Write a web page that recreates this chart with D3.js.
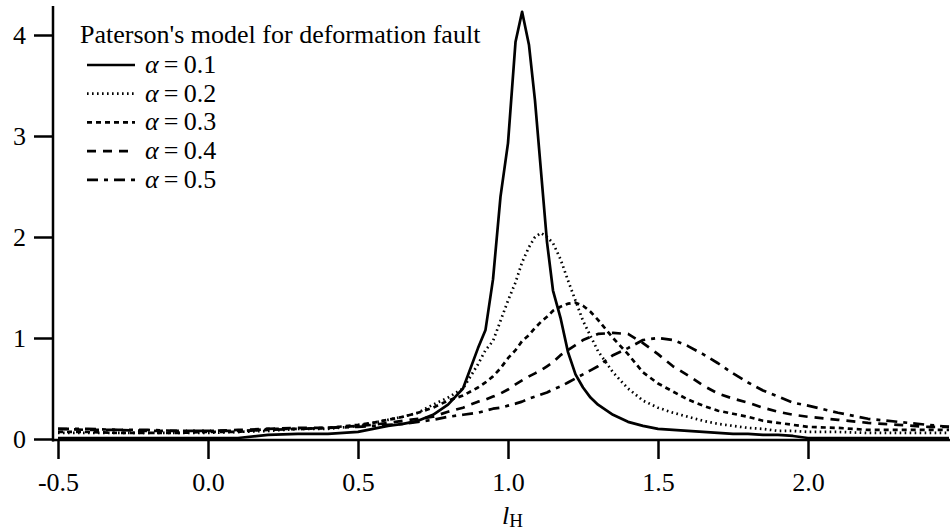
<!DOCTYPE html>
<html>
<head>
<meta charset="utf-8">
<script src="https://cdn.jsdelivr.net/npm/d3@7"></script>
<style>
  html, body { margin: 0; padding: 0; background: #fff; }
  svg { display: block; font-family: "Liberation Serif", "Times New Roman", serif; }
</style>
</head>
<body>
<svg id="chart" width="950" height="532"></svg>
<script>
// ---- data ----
const xValues = [-0.5,-0.4,-0.3,-0.2,-0.1,0.0,0.1,0.2,0.3,0.4,0.5,
  0.55,0.6,0.65,0.7,0.75,0.8,0.85,0.9,
  0.925,0.95,0.975,1.0,1.025,1.047,1.07,1.09,1.11,1.13,1.15,1.175,1.2,1.225,1.25,1.275,1.3,
  1.35,1.4,1.45,1.5,1.55,1.6,1.65,1.7,1.75,1.8,1.85,1.9,1.95,2.0,
  2.1,2.2,2.3,2.4,2.47];

const alpha01 = [0.01,0.01,0.01,0.01,0.01,0.01,0.01,0.04,0.05,0.05,0.07,
  0.10,0.13,0.15,0.18,0.24,0.34,0.50,0.90,
  1.08,1.58,2.40,2.93,3.93,4.23,3.90,3.35,2.65,1.95,1.47,1.20,0.86,0.64,0.51,0.41,0.34,
  0.24,0.17,0.13,0.10,0.09,0.08,0.07,0.06,0.05,0.05,0.04,0.04,0.03,0.01,
  0.01,0.01,0.01,0.01,0.01];

const alpha02 = [0.06,0.06,0.06,0.06,0.06,0.06,0.07,0.08,0.10,0.10,0.13,
  0.16,0.19,0.22,0.26,0.34,0.41,0.50,0.74,
  0.88,0.97,1.17,1.37,1.55,1.75,1.90,2.00,2.04,2.00,1.94,1.78,1.57,1.37,1.17,1.02,0.87,
  0.66,0.50,0.38,0.31,0.26,0.22,0.18,0.15,0.13,0.11,0.10,0.08,0.08,0.07,
  0.07,0.06,0.06,0.06,0.06];

const alpha03 = [0.07,0.07,0.06,0.06,0.06,0.07,0.07,0.10,0.10,0.11,0.14,
  0.16,0.19,0.22,0.26,0.31,0.38,0.43,0.51,
  0.56,0.62,0.70,0.80,0.88,0.97,1.03,1.10,1.16,1.21,1.27,1.31,1.34,1.35,1.32,1.26,1.18,
  1.00,0.84,0.66,0.55,0.47,0.39,0.33,0.28,0.25,0.22,0.18,0.16,0.14,0.12,
  0.11,0.09,0.09,0.09,0.09];

const alpha04 = [0.10,0.09,0.09,0.08,0.08,0.08,0.09,0.10,0.11,0.11,0.13,
  0.14,0.16,0.18,0.20,0.22,0.27,0.31,0.37,
  0.39,0.42,0.45,0.49,0.54,0.58,0.62,0.65,0.68,0.72,0.76,0.83,0.88,0.93,0.98,1.01,1.04,
  1.05,1.04,0.95,0.84,0.72,0.63,0.53,0.45,0.40,0.36,0.31,0.27,0.24,0.22,
  0.19,0.16,0.14,0.12,0.12];

const alpha05 = [0.10,0.10,0.09,0.09,0.08,0.08,0.08,0.09,0.10,0.11,0.12,
  0.13,0.14,0.15,0.17,0.19,0.22,0.24,0.26,
  0.28,0.30,0.31,0.33,0.35,0.37,0.40,0.42,0.44,0.46,0.49,0.52,0.56,0.60,0.64,0.68,0.72,
  0.83,0.90,0.98,1.00,0.98,0.92,0.84,0.75,0.65,0.56,0.48,0.42,0.36,0.33,
  0.26,0.20,0.17,0.14,0.12];

const seriesLabels = ["0.1","0.2","0.3","0.4","0.5"];
const seriesValues = [alpha01, alpha02, alpha03, alpha04, alpha05];
const xTicks = [-0.5, 0.0, 0.5, 1.0, 1.5, 2.0];
const yTicks = [0, 1, 2, 3, 4];
const legendTitle = "Paterson's model for deformation fault";

// ---- styles ----
const dashes = [null, "1.6,3.4", "5,4", "9,7", "11,6,4,6"];
const FS = 26;

const svg = d3.select("#chart");
const x = d3.scaleLinear().domain([-0.5, 2.0]).range([58, 808]);
const y = d3.scaleLinear().domain([0, 4]).range([439, 35]);

// axes
const yAxisX = 53, xAxisY = 440;
svg.append("line").attr("x1", yAxisX).attr("x2", yAxisX).attr("y1", 6).attr("y2", xAxisY + 1.5)
  .attr("stroke", "#000").attr("stroke-width", 2.5);
svg.append("line").attr("x1", yAxisX - 1).attr("x2", 950).attr("y1", xAxisY).attr("y2", xAxisY)
  .attr("stroke", "#000").attr("stroke-width", 2.5);

const yAxis = d3.axisLeft(y).tickValues(yTicks).tickSize(19).tickPadding(8).tickFormat(d3.format("d"));
const gy = svg.append("g").attr("transform", `translate(${yAxisX},0)`).call(yAxis);
gy.select(".domain").remove();
gy.selectAll(".tick line").attr("stroke-width", 2.5);
gy.selectAll(".tick text").attr("font-size", FS).attr("font-family", "Liberation Serif").attr("fill", "#000");

const fmtX = d => d3.format(".1f")(d).replace("\u2212", "-");
const xAxis = d3.axisBottom(x).tickValues(xTicks).tickSize(19).tickPadding(14).tickFormat(fmtX);
const gx = svg.append("g").attr("transform", `translate(0,${xAxisY})`).call(xAxis);
gx.select(".domain").remove();
gx.selectAll(".tick line").attr("stroke-width", 2.5);
gx.selectAll(".tick text").attr("font-size", FS).attr("font-family", "Liberation Serif").attr("fill", "#000");

// x label
const xl = svg.append("text").attr("x", x(1.0) - 6).attr("y", 524).attr("font-size", FS).attr("fill", "#000");
xl.append("tspan").attr("font-style", "italic").text("l");
xl.append("tspan").attr("font-size", 19).attr("dy", 3).text("H");

// lines
const line = d3.line().x((d, i) => x(xValues[i])).y(d => y(d));
seriesValues.forEach((vals, k) => {
  svg.append("path").datum(vals).attr("d", line)
    .attr("fill", "none").attr("stroke", "#000").attr("stroke-width", 2.7)
    .attr("stroke-linejoin", "round")
    .attr("stroke-dasharray", dashes[k]);
});

// legend
svg.append("text").attr("x", 80).attr("y", 43).attr("font-size", FS).attr("fill", "#000").text(legendTitle);
seriesLabels.forEach((lab, k) => {
  const cy = 65 + k * 28.7;
  svg.append("line").attr("x1", 87).attr("x2", 135).attr("y1", cy).attr("y2", cy)
    .attr("stroke", "#000").attr("stroke-width", 2.7).attr("stroke-dasharray", dashes[k]);
  const t = svg.append("text").attr("x", 145).attr("y", cy + 8).attr("font-size", FS).attr("fill", "#000");
  t.append("tspan").attr("font-style", "italic").text("α");
  t.append("tspan").text("\u2009=\u2009" + lab);
});
</script>
</body>
</html>
